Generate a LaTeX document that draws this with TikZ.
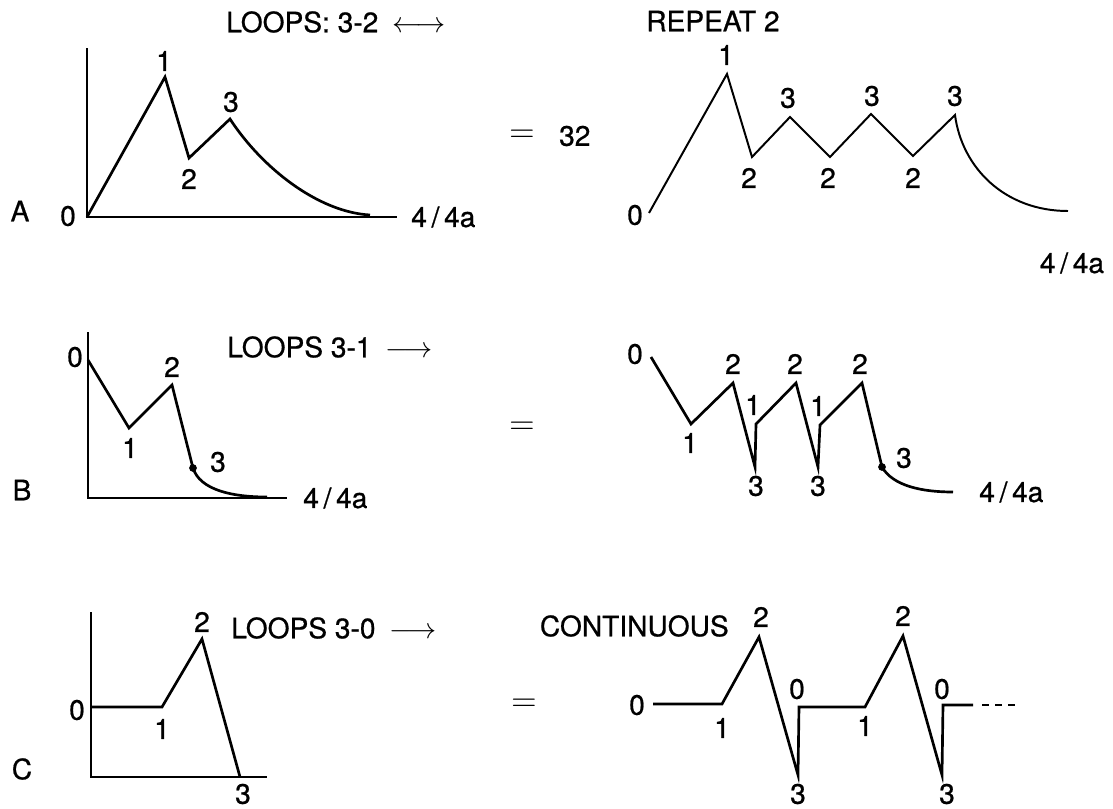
\documentclass[tikz,border=0pt]{standalone}
\usepackage{fontspec}
\setmainfont{TeX Gyre Heros}[FakeBold=0.7]
\usetikzlibrary{positioning}
\tikzstyle{lbl} = [inner sep=0pt, font=\fontsize{20}{24}\selectfont]
\tikzstyle{eqsign} = [inner sep=0pt, font=\fontsize{26}{26}\selectfont]
\tikzstyle{axis} = [line width=1.2pt]
\tikzstyle{signal} = [line width=1.9pt]
\tikzstyle{thinsignal} = [line width=1.4pt]
\tikzstyle{knee} = [circle, fill=black, inner sep=0pt, minimum size=5.5pt]

\begin{document}
\begin{tikzpicture}[x=0.025cm, y=-0.025cm, line join=miter]
\useasboundingbox (0,0) rectangle (1113,809);

% Row A: loops 3-2
\node (rowA) [lbl] at (20,211) {A};
\node (loopsA) [lbl, anchor=west] at (226,22) {LOOPS: 3-2\enspace$\longleftrightarrow$};
\node (repeat) [lbl, anchor=west] at (646,21) {REPEAT 2};

\coordinate (aorig) at (87,217);
\coordinate (a1) at (165,77);
\coordinate (a2) at (189,158);
\coordinate (a3) at (230,119);
\coordinate (a4) at (370,215);
\coordinate (aend) at (397,217);
\draw[axis] (87,48) -- (aorig) -- (aend);
\draw[signal] (aorig) -- (a1) -- (a2) -- (a3) .. controls (262,168) and (318,212) .. (a4);

\node (la0) [lbl] at (68,216) {0};
\node (la1) [lbl] at (164,61) {1};
\node (la2) [lbl] at (189,179) {2};
\node (la3) [lbl] at (231,102) {3};
\node (unitA) [lbl, right=0.35cm of aend] {4\,/\,4a};

\node (eqA) [eqsign] at (522,136) {$=$};
\node (num32) [lbl, right=0.6cm of eqA] {32};

\coordinate (r0) at (649,213);
\coordinate (r1) at (727,74);
\coordinate (r2) at (752,157);
\coordinate (r3) at (790,117);
\coordinate (r4) at (830,157);
\coordinate (r5) at (871,114);
\coordinate (r6) at (913,156);
\coordinate (r7) at (955,115);
\coordinate (r8) at (1068,211);
\draw[thinsignal] (r0) -- (r1) -- (r2) -- (r3) -- (r4) -- (r5) -- (r6) -- (r7)
  .. controls (962,168) and (1005,211) .. (r8);

\node (lr0) [lbl] at (635,215) {0};
\node (lr1) [lbl] at (726,55) {1};
\node (lr2) [lbl] at (749,178) {2};
\node (lr3) [lbl] at (788,98) {3};
\node (lr4) [lbl] at (828,178) {2};
\node (lr5) [lbl] at (872,96) {3};
\node (lr6) [lbl] at (913,178) {2};
\node (lr7) [lbl] at (955,96) {3};
\node (unitAr) [lbl] at (1072,263) {4\,/\,4a};

% Row B: loops 3-1
\node (rowB) [lbl] at (22,490) {B};
\node (loopsB) [lbl, anchor=west] at (227,347) {LOOPS 3-1\enspace$\longrightarrow$};

\coordinate (borig) at (88,498);
\coordinate (b0) at (88,360);
\coordinate (b1) at (129,428);
\coordinate (b2) at (172,385);
\node (bk) [knee] at (193,468) {};
\coordinate (b4) at (267,497);
\coordinate (bend) at (287,498);
\draw[axis] (88,332) -- (borig) -- (bend);
\draw[signal] (b0) -- (b1) -- (b2) -- (bk.center) .. controls (200,490) and (232,497) .. (b4);

\node (lb0) [lbl] at (75,357) {0};
\node (lb1) [lbl] at (130,448) {1};
\node (lb2) [lbl] at (172,367) {2};
\node (lb3) [lbl] at (218,462) {3};
\node (unitB) [lbl, right=0.4cm of bend] {4\,/\,4a};

\node (eqB) [eqsign] at (522,428) {$=$};

\coordinate (s0) at (651,357);
\coordinate (s1) at (691,424);
\coordinate (s2) at (733,383);
\coordinate (s3) at (755,467);
\coordinate (s4) at (756,424);
\coordinate (s5) at (796,383);
\coordinate (s6) at (818,467);
\coordinate (s7) at (820,425);
\coordinate (s8) at (862,383);
\node (sk) [knee] at (882,467) {};
\coordinate (s9) at (953,492);
\draw[signal] (s0) -- (s1) -- (s2) -- (s3) -- (s4) -- (s5) -- (s6) -- (s7) -- (s8) -- (sk.center)
  .. controls (893,486) and (922,492) .. (s9);

\node (ls0) [lbl] at (635,354) {0};
\node (ls1) [lbl] at (690,443) {1};
\node (ls2) [lbl] at (733,364) {2};
\node (ls3) [lbl] at (756,486) {3};
\node (ls4) [lbl] at (753,405) {1};
\node (ls5) [lbl] at (795,364) {2};
\node (ls6) [lbl] at (818,486) {3};
\node (ls7) [lbl] at (818,406) {1};
\node (ls8) [lbl] at (860,364) {2};
\node (ls9) [lbl] at (904,458) {3};
\node (unitBr) [lbl, right=0.65cm of s9] {4\,/\,4a};

% Row C: loops 3-0
\node (rowC) [lbl] at (22,769) {C};
\node (loopsC) [lbl, anchor=west] at (231,628) {LOOPS 3-0\enspace$\longrightarrow$};
\node (contin) [lbl, anchor=east] at (729,626) {CONTINUOUS};

\coordinate (corig) at (91,777);
\coordinate (c0) at (91,707);
\coordinate (c1) at (162,707);
\coordinate (c2) at (202,639);
\coordinate (c3) at (240,777);
\coordinate (cend) at (267,777);
\draw[axis] (91,612) -- (corig) -- (cend);
\draw[signal] (c0) -- (c1) -- (c2) -- (c3);

\node (lc0) [lbl] at (77,710) {0};
\node (lc1) [lbl] at (162,729) {1};
\node (lc2) [lbl] at (202,622) {2};
\node (lc3) [lbl] at (243,794) {3};

\node (eqC) [eqsign] at (524,705) {$=$};

\coordinate (t0) at (653,704);
\coordinate (t1) at (722,704);
\coordinate (t2) at (759,637);
\coordinate (t3) at (798,775);
\coordinate (t4) at (799,707);
\coordinate (t5) at (865,707);
\coordinate (t6) at (903,636);
\coordinate (t7) at (942,775);
\coordinate (t8) at (943,705);
\coordinate (t9) at (973,705);
\coordinate (tdots) at (982,705);
\coordinate (tend) at (1016,705);
\draw[signal] (t0) -- (t1) -- (t2) -- (t3) -- (t4) -- (t5) -- (t6) -- (t7) -- (t8) -- (t9);
\draw[signal, dash pattern=on 5pt off 4.3pt] (tdots) -- (tend);

\node (lt0) [lbl] at (637,705) {0};
\node (lt1) [lbl] at (722,728) {1};
\node (lt2) [lbl] at (761,617) {2};
\node (lt3) [lbl] at (798,794) {3};
\node (lt4) [lbl] at (797,689) {0};
\node (lt5) [lbl] at (865,726) {1};
\node (lt6) [lbl] at (903,616) {2};
\node (lt7) [lbl] at (947,794) {3};
\node (lt8) [lbl] at (942,689) {0};

\end{tikzpicture}
\end{document}
